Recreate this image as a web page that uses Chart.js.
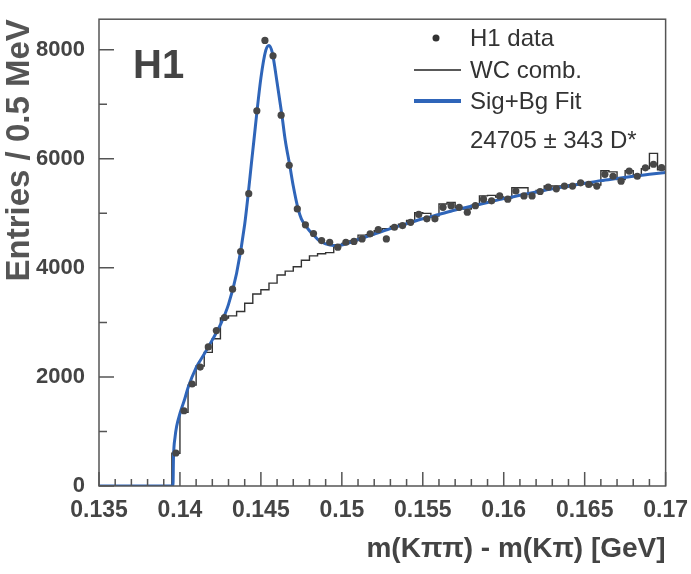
<!DOCTYPE html>
<html>
<head>
<meta charset="utf-8">
<script src="https://cdn.jsdelivr.net/npm/chart.js@4"></script>
<style>
  body { margin: 0; background: #fff; }
  canvas { display: block; }
</style>
</head>
<body>
<canvas id="dstar" width="691" height="574"></canvas>
<script>
// bin centres of the 0.5 MeV bins, GeV
const binCentres = [
  0.13975, 0.14025, 0.14075, 0.14125, 0.14175, 0.14225, 0.14275, 0.14325, 0.14375, 0.14425,
  0.14475, 0.14525, 0.14575, 0.14625, 0.14675, 0.14725, 0.14775, 0.14825, 0.14875, 0.14925,
  0.14975, 0.15025, 0.15075, 0.15125, 0.15175, 0.15225, 0.15275, 0.15325, 0.15375, 0.15425,
  0.15475, 0.15525, 0.15575, 0.15625, 0.15675, 0.15725, 0.15775, 0.15825, 0.15875, 0.15925,
  0.15975, 0.16025, 0.16075, 0.16125, 0.16175, 0.16225, 0.16275, 0.16325, 0.16375, 0.16425,
  0.16475, 0.16525, 0.16575, 0.16625, 0.16675, 0.16725, 0.16775, 0.16825, 0.16875, 0.16925,
  0.16975
];

// H1 data, entries per bin
const h1Data = [
  605, 1380, 1870, 2180, 2550, 2850, 3090, 3610, 4300, 5360,
  6880, 8170, 7890, 6800, 5880, 5080, 4790, 4630, 4500, 4470,
  4380, 4470, 4485, 4530, 4625, 4700, 4530, 4745, 4775, 4836,
  4980, 4900, 4900, 5110, 5140, 5110, 5020, 5140, 5260, 5230,
  5320, 5260, 5410, 5320, 5320, 5400, 5480, 5450, 5500, 5500,
  5560, 5530, 5500, 5715, 5680, 5590, 5775, 5680, 5835, 5900,
  5840
];

// wrong charge combinations, entries per bin
const wcComb = [
  600, 1350, 1850, 2200, 2450, 2700, 3080, 3120, 3200, 3350,
  3520, 3600, 3720, 3870, 3940, 4020, 4140, 4220, 4260, 4280,
  4420, 4450, 4500, 4600, 4610, 4680, 4720, 4760, 4800, 4870,
  5010, 5000, 4950, 5170, 5200, 5100, 5080, 5150, 5320, 5330,
  5300, 5280, 5470, 5470, 5380, 5420, 5500, 5500, 5480, 5520,
  5540, 5560, 5520, 5780, 5760, 5620, 5780, 5700, 5820, 6100,
  5800
];

// signal + background fit
const fitMass = [
  0.135, 0.13957, 0.1396, 0.1397, 0.1398, 0.1400, 0.1403, 0.1405, 0.1410, 0.1415,
  0.1420, 0.1425, 0.1430, 0.1435, 0.1440, 0.1445, 0.1450, 0.1453, 0.1455, 0.1457,
  0.1460, 0.1463, 0.1465, 0.1468, 0.1470, 0.1473, 0.1475, 0.1478, 0.1480, 0.1483,
  0.1486, 0.1490, 0.1495, 0.1500, 0.1510, 0.1520, 0.1530, 0.1540, 0.1550, 0.1560,
  0.1570, 0.1580, 0.1590, 0.1600, 0.1610, 0.1620, 0.1630, 0.1640, 0.1650, 0.1660,
  0.1670, 0.1680, 0.1690, 0.1700
];
const fitValue = [
  0, 0, 500, 900, 1100, 1330, 1600, 1800, 2170, 2420,
  2680, 2960, 3330, 3900, 4800, 6150, 7480, 7990, 8080, 7950,
  7400, 6800, 6350, 5850, 5500, 5080, 4900, 4760, 4680, 4590,
  4500, 4440, 4410, 4420, 4520, 4620, 4720, 4810, 4900, 4980,
  5060, 5130, 5200, 5270, 5330, 5390, 5450, 5500, 5550, 5600,
  5640, 5680, 5715, 5750
];

const xTicks = [0.135, 0.14, 0.145, 0.15, 0.155, 0.16, 0.165, 0.17];
const xMinorStep = 0.001;
const yTicks = [0, 2000, 4000, 6000, 8000];
const yMinorTicks = [1000, 3000, 5000, 7000];
const binWidth = 0.0005;

const sans = "'Liberation Sans', Arial, sans-serif";
const inkGrey = '#444';
const fitBlue = '#2f65b9';

// histogram outline: start at zero, left edges, closing right edge
const wcSteps = [{ x: 0.135, y: 0 }];
binCentres.forEach((c, i) => wcSteps.push({ x: c - binWidth / 2, y: wcComb[i] }));
wcSteps.push({ x: binCentres[binCentres.length - 1] + binWidth / 2, y: wcComb[wcComb.length - 1] });

const framePlugin = {
  id: 'frame',
  afterDraw(chart) {
    const { ctx, chartArea: a, scales: { x, y } } = chart;
    ctx.save();
    ctx.strokeStyle = '#555';
    ctx.lineWidth = 1.5;
    ctx.strokeRect(a.left, a.top, a.right - a.left, a.bottom - a.top);

    // ticks pointing into the frame
    ctx.beginPath();
    for (let v = xTicks[0]; v <= xTicks[xTicks.length - 1] + 1e-9; v += xMinorStep) {
      const px = x.getPixelForValue(v);
      const major = xTicks.some(t => Math.abs(t - v) < 1e-7);
      ctx.moveTo(px, a.bottom);
      ctx.lineTo(px, a.bottom - (major ? 14 : 7));
    }
    yTicks.forEach(v => {
      const py = y.getPixelForValue(v);
      ctx.moveTo(a.left, py);
      ctx.lineTo(a.left + 15, py);
    });
    yMinorTicks.forEach(v => {
      const py = y.getPixelForValue(v);
      ctx.moveTo(a.left, py);
      ctx.lineTo(a.left + 8, py);
    });
    ctx.stroke();

    // H1 label
    ctx.fillStyle = inkGrey;
    ctx.font = "bold 40px " + sans;
    ctx.textBaseline = 'alphabetic';
    ctx.fillText('H1', 133, 78);

    // legend
    ctx.font = "24px " + sans;
    ctx.fillStyle = '#333';
    ctx.textBaseline = 'middle';
    ctx.beginPath();
    ctx.arc(436, 38, 3.5, 0, Math.PI * 2);
    ctx.fill();
    ctx.fillText('H1 data', 470, 39);

    ctx.strokeStyle = '#222';
    ctx.lineWidth = 1.5;
    ctx.beginPath();
    ctx.moveTo(414, 70);
    ctx.lineTo(461, 70);
    ctx.stroke();
    ctx.fillText('WC comb.', 470, 71);

    ctx.strokeStyle = fitBlue;
    ctx.lineWidth = 4;
    ctx.beginPath();
    ctx.moveTo(414, 101);
    ctx.lineTo(461, 101);
    ctx.stroke();
    ctx.fillText('Sig+Bg Fit', 470, 102);

    ctx.fillText('24705 \u00b1 343 D*', 470, 141);
    ctx.restore();
  }
};

new Chart(document.getElementById('dstar'), {
  type: 'scatter',
  data: {
    datasets: [
      {
        label: 'H1 data',
        data: binCentres.map((c, i) => ({ x: c, y: h1Data[i] })),
        showLine: false,
        pointRadius: 3.6,
        pointBackgroundColor: '#474747',
        pointBorderWidth: 0,
        order: 0
      },
      {
        label: 'Sig+Bg Fit',
        data: fitMass.map((m, i) => ({ x: m, y: fitValue[i] })),
        showLine: true,
        borderColor: fitBlue,
        borderWidth: 3,
        pointRadius: 0,
        cubicInterpolationMode: 'monotone',
        order: 1
      },
      {
        label: 'WC comb.',
        data: wcSteps,
        showLine: true,
        stepped: 'before',
        borderColor: '#333',
        borderWidth: 1.4,
        pointRadius: 0,
        order: 2
      }
    ]
  },
  options: {
    responsive: false,
    animation: false,
    layout: { padding: { top: 14, right: 24, left: 0, bottom: 0 } },
    plugins: { legend: { display: false }, tooltip: { enabled: false } },
    scales: {
      x: {
        type: 'linear',
        min: 0.135,
        max: 0.17,
        grid: { display: false },
        border: { display: false },
        afterBuildTicks: s => { s.ticks = xTicks.map(v => ({ value: v })); },
        afterFit: s => { s.height = 88; },
        ticks: {
          autoSkip: false,
          maxRotation: 0,
          padding: 3,
          color: inkGrey,
          font: { family: sans, size: 23, weight: 'bold' },
          callback: v => String(v)
        },
        title: {
          display: true,
          text: 'm(K\u03c0\u03c0) - m(K\u03c0) [GeV]',
          align: 'end',
          color: inkGrey,
          font: { family: sans, size: 28, weight: 'bold' },
          padding: { top: 0, bottom: 8 }
        }
      },
      y: {
        min: 0,
        max: 8560,
        grid: { display: false },
        border: { display: false },
        afterBuildTicks: s => { s.ticks = yTicks.map(v => ({ value: v })); },
        afterFit: s => { s.width = 99; },
        ticks: {
          padding: 6,
          color: inkGrey,
          font: { family: sans, size: 22, weight: 'bold' },
          callback: v => String(v)
        },
        title: {
          display: true,
          text: 'Entries / 0.5 MeV',
          align: 'end',
          color: '#555',
          font: { family: sans, size: 33, weight: 'bold' },
          padding: { top: 0, bottom: 0 }
        }
      }
    }
  },
  plugins: [framePlugin]
});
</script>
</body>
</html>
